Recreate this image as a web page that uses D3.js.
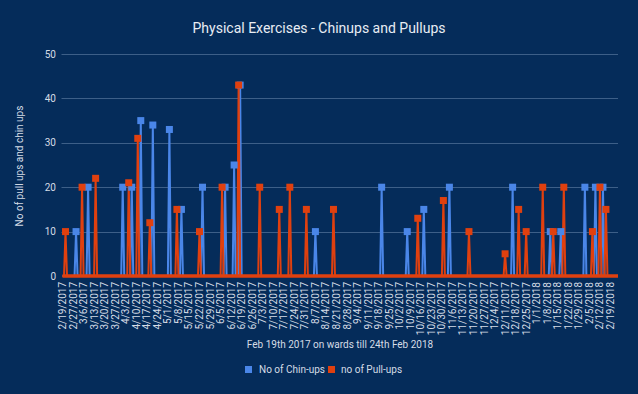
<!DOCTYPE html>
<html>
<head>
<meta charset="utf-8">
<script src="https://cdn.jsdelivr.net/npm/d3@7"></script>
<style>
  html, body { margin: 0; padding: 0; background: #052c5a; }
  svg { display: block; font-family: Roboto, "Noto Sans", sans-serif; }
</style>
</head>
<body>
<svg id="chart" width="638" height="394"></svg>
<script>
// ---- Data ----
const title = "Physical Exercises - Chinups and Pullups";
const xTitle = "Feb 19th 2017 on wards till 24th Feb 2018";
const yTitle = "No of pull ups and chin ups";
const firstDate = "2017-02-19";
const lastDate = "2018-02-24";
const missingDates = ["2017-02-26"];
const yTicks = [0, 10, 20, 30, 40, 50];
const seriesNames = ["No of Chin-ups", "no of Pull-ups"];
const seriesColors = ["#4a86e8", "#e0400f"];

const chinDates = ["2017-03-01","2017-03-09","2017-04-01","2017-04-07","2017-04-13","2017-04-21",
  "2017-05-02","2017-05-10","2017-05-24","2017-06-08","2017-06-14","2017-06-18","2017-08-07",
  "2017-09-20","2017-10-07","2017-10-18","2017-11-04","2017-12-16","2018-01-10","2018-01-17",
  "2018-02-02","2018-02-09","2018-02-14"];
const chinValues = [10,20,20,20,35,34,33,15,20,20,25,43,10,20,10,15,20,20,10,10,20,20,20];

const pullDates = ["2017-02-21","2017-03-05","2017-03-14","2017-04-05","2017-04-11","2017-04-19",
  "2017-05-07","2017-05-22","2017-06-06","2017-06-17","2017-07-01","2017-07-14","2017-07-21",
  "2017-08-01","2017-08-19","2017-10-14","2017-10-31","2017-11-17","2017-12-11","2017-12-20",
  "2017-12-25","2018-01-05","2018-01-12","2018-01-19","2018-02-07","2018-02-12","2018-02-16"];
const pullValues = [10,20,22,21,31,12,15,10,20,43,20,15,20,15,15,13,17,10,5,15,10,20,10,20,10,20,15];

// ---- Build daily categories ----
const parse = d3.timeParse("%Y-%m-%d");
const fmtKey = d3.timeFormat("%Y-%m-%d");
const fmtLabel = d => `${d.getMonth()+1}/${d.getDate()}/${d.getFullYear()}`;
const categories = d3.timeDay.range(parse(firstDate), d3.timeDay.offset(parse(lastDate), 1))
  .map(fmtKey).filter(k => !missingDates.includes(k));

function buildSeries(dates, values) {
  const m = new Map(dates.map((d, i) => [d, values[i]]));
  return categories.map(c => ({ key: c, value: m.has(c) ? m.get(c) : 0 }));
}
const series = [buildSeries(chinDates, chinValues), buildSeries(pullDates, pullValues)];

// ---- Layout ----
const svg = d3.select("#chart");
const W = 638, H = 394;
const mLeft = 62.5, mRight = 618, mTop = 54, mBottom = 276;

const x = d3.scalePoint().domain(categories).range([mLeft, mRight]);
const y = d3.scaleLinear().domain([0, 50]).range([mBottom, mTop]);

svg.append("rect").attr("width", W).attr("height", H).attr("fill", "#052c5a");

// Title
svg.append("text").attr("x", 319).attr("y", 33).attr("text-anchor", "middle")
  .attr("fill", "#e8edf4").attr("font-size", 14).text(title);

// Grid + y labels
const yAxis = svg.append("g");
yTicks.forEach(t => {
  if (t > 0) {
    yAxis.append("line").attr("x1", mLeft - 1).attr("x2", mRight)
      .attr("y1", Math.round(y(t)) + 0.5).attr("y2", Math.round(y(t)) + 0.5)
      .attr("stroke", "#3d5f88").attr("stroke-width", 1);
  }
  yAxis.append("text").attr("x", 56).attr("y", y(t) + 3.5).attr("text-anchor", "end")
    .attr("fill", "#d5dce6").attr("font-size", 10).text(t);
});

// Y title
svg.append("text").attr("transform", "translate(23,166) rotate(-90)")
  .attr("text-anchor", "middle").attr("fill", "#d5dce6").attr("font-size", 10).text(yTitle);

// X tick labels every 7th category
const tickCats = categories.filter((c, i) => i % 7 === 0);
const xAxis = svg.append("g");
tickCats.forEach(c => {
  xAxis.append("text")
    .attr("transform", `translate(${x(c) + 3.5},282) rotate(-90)`)
    .attr("text-anchor", "end").attr("fill", "#d5dce6").attr("font-size", 10)
    .text(fmtLabel(parse(c)));
});

// X title
svg.append("text").attr("x", 340).attr("y", 348).attr("text-anchor", "middle")
  .attr("fill", "#d5dce6").attr("font-size", 10).text(xTitle);

// Series lines and markers
const line = d3.line().x(d => x(d.key)).y(d => y(d.value));
series.forEach((s, i) => {
  svg.append("path").datum(s).attr("d", line).attr("fill", "none")
    .attr("stroke", seriesColors[i]).attr("stroke-width", 2).attr("stroke-linejoin", "miter");
});
series.forEach((s, i) => {
  svg.append("g").selectAll("rect").data(s.filter(d => d.value > 0)).join("rect")
    .attr("x", d => x(d.key) - 3.5).attr("y", d => y(d.value) - 3.5)
    .attr("width", 7).attr("height", 7).attr("fill", seriesColors[i]);
});
// baseline emphasis (zero line of pull-ups drawn over)
svg.append("line").attr("x1", mLeft).attr("x2", mRight).attr("y1", mBottom).attr("y2", mBottom)
  .attr("stroke", seriesColors[1]).attr("stroke-width", 3.5);

// Legend
const legend = [{ x: 245, tx: 259 }, { x: 328, tx: 341 }];
legend.forEach((l, i) => {
  svg.append("rect").attr("x", l.x).attr("y", 366).attr("width", 7).attr("height", 7)
    .attr("fill", seriesColors[i]);
  svg.append("text").attr("x", l.tx).attr("y", 373).attr("fill", "#d5dce6")
    .attr("font-size", 10).text(seriesNames[i]);
});
</script>
</body>
</html>
